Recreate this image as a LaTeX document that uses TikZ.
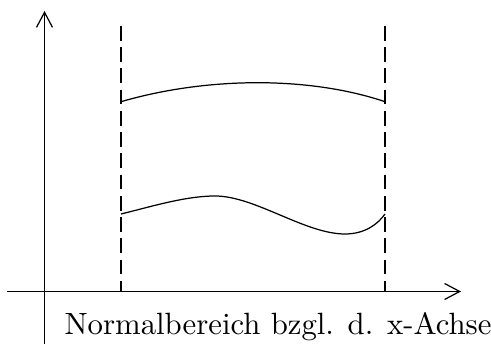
\documentclass[tikz,border=0pt]{standalone}
\usepackage{tikz}
\usetikzlibrary{arrows.meta}
\tikzset{
nbaxis/.style={-{Straight Barb[length=4.9pt,width=5.2pt]},line width=0.4pt},
nbbound/.style={dash pattern=on 4.8pt off 2.1pt,line width=0.4pt},
nbcurve/.style={line width=0.4pt},
nblabel/.style={font=\normalsize,inner sep=0pt,anchor=base west}
}
\begin{document}
\begin{tikzpicture}[
x=0.325pt,
y=0.325pt
]
\useasboundingbox (0,0) rectangle (491,344);
% axes
\coordinate (xstart) at (7,52.5);
\coordinate (xend) at (461,52.5);
\coordinate (ystart) at (44.5,0);
\coordinate (yend) at (44.5,333);
% bounds a and b
\coordinate (atop) at (121,318);
\coordinate (abot) at (121,52.5);
\coordinate (btop) at (385,318);
\coordinate (bbot) at (385,52.5);
% upper and lower boundary curves
\coordinate (upleft) at (121,242.3);
\coordinate (upright) at (385,242.3);
\coordinate (lowleft) at (121,130);
\coordinate (lowpeak) at (215,148);
\coordinate (lowdip) at (345,110);
\coordinate (lowright) at (385,130);
\node[nblabel] (caption) at (64,9) {Normalbereich bzgl. d. x-Achse};
\draw[nbaxis] (xstart)--(xend);
\draw[nbaxis] (ystart)--(yend);
\draw[nbbound] (atop)--(abot);
\draw[nbbound] (btop)--(bbot);
\draw[nbcurve] (upleft) .. controls (208,267.6) and (310,267.6) .. (upright);
\draw[nbcurve] (lowleft) .. controls (150,137) and (185,148) .. (lowpeak)
  .. controls (255,148) and (305,110) .. (lowdip)
  .. controls (365,110) and (378,120) .. (lowright);
\end{tikzpicture}
\end{document}
